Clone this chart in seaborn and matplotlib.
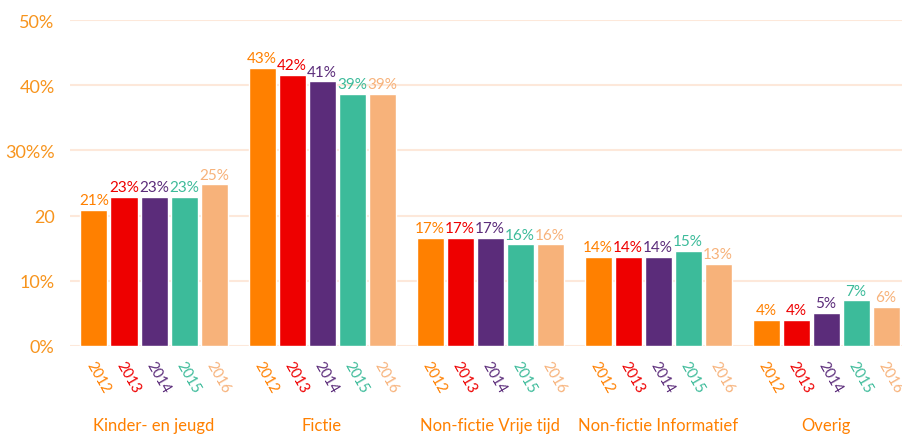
import matplotlib
matplotlib.use("Agg")
import matplotlib.pyplot as plt
import matplotlib.transforms as mtransforms
import seaborn as sns
import pandas as pd

categories = ["Kinder- en jeugd", "Fictie", "Non-fictie Vrije tijd", "Non-fictie Informatief", "Overig"]
years = ["2012", "2013", "2014", "2015", "2016"]
values = {
    "2012": [20.9, 42.6, 16.6, 13.7, 4.0],
    "2013": [22.9, 41.6, 16.6, 13.7, 4.0],
    "2014": [22.9, 40.6, 16.6, 13.7, 5.1],
    "2015": [22.9, 38.7, 15.6, 14.6, 7.0],
    "2016": [24.8, 38.7, 15.6, 12.6, 6.0],
}
ytick_vals = [0, 10, 20, 30, 40, 50]
ytick_labels = ["0%", "10%", "20", "30%%", "40%", "50%"]
colors = ["#FF8000", "#EE0000", "#5B2C7A", "#3CBB9A", "#F7B27A"]

rows = []
for y in years:
    for c, v in zip(categories, values[y]):
        rows.append({"cat": c, "year": y, "val": v})
df = pd.DataFrame(rows)

sns.set_theme(style="white")
plt.rcParams["font.family"] = ["Lato", "DejaVu Sans"]

fig = plt.figure(figsize=(9.03, 4.35), dpi=100)
ax = fig.add_axes([70 / 903, 1 - 347 / 435, 1 - 70 / 903, (347 - 21) / 435])

sns.barplot(data=df, x="cat", y="val", hue="year", order=categories, hue_order=years,
            palette=colors, width=0.893, gap=0.1, saturation=1, ax=ax, legend=False)

ax.set_ylim(0, 50)
ax.set_xlim(-0.5, 4.458)
ax.set_yticks(ytick_vals)
ax.set_yticklabels(ytick_labels, color="#F7941D", fontsize=13)
ax.tick_params(axis="y", length=0, pad=11)
ax.yaxis.grid(True, color="#FDE8DA", linewidth=1.5)
ax.set_axisbelow(True)
for s in ax.spines.values():
    s.set_visible(False)
ax.set_xlabel("")
ax.set_ylabel("")

ax.set_xticks(range(len(categories)))
ax.set_xticklabels([])
ax.tick_params(axis="x", length=0)
trans = mtransforms.blended_transform_factory(ax.transData, ax.transAxes)
for i, c in enumerate(categories):
    ax.text(i, (347 - 426) / 326, c, transform=trans, ha="center", va="center",
            color="#FF8000", fontsize=12)

# value labels and year labels
for i, (container, y) in enumerate(zip(ax.containers, years)):
    col = colors[i]
    for bar, v in zip(container, values[y]):
        cx = bar.get_x() + bar.get_width() / 2
        ax.annotate(f"{v:.0f}%", (cx, bar.get_height()), xytext=(0, 2),
                    textcoords="offset points", ha="center", va="bottom",
                    color=col, fontsize=11)
        ax.annotate(y, (cx, 0), xycoords=trans, xytext=(3, -9),
                    textcoords="offset points", ha="center", va="top",
                    rotation=-60, color=col, fontsize=10.5)

fig.savefig("out.png", dpi=100)
